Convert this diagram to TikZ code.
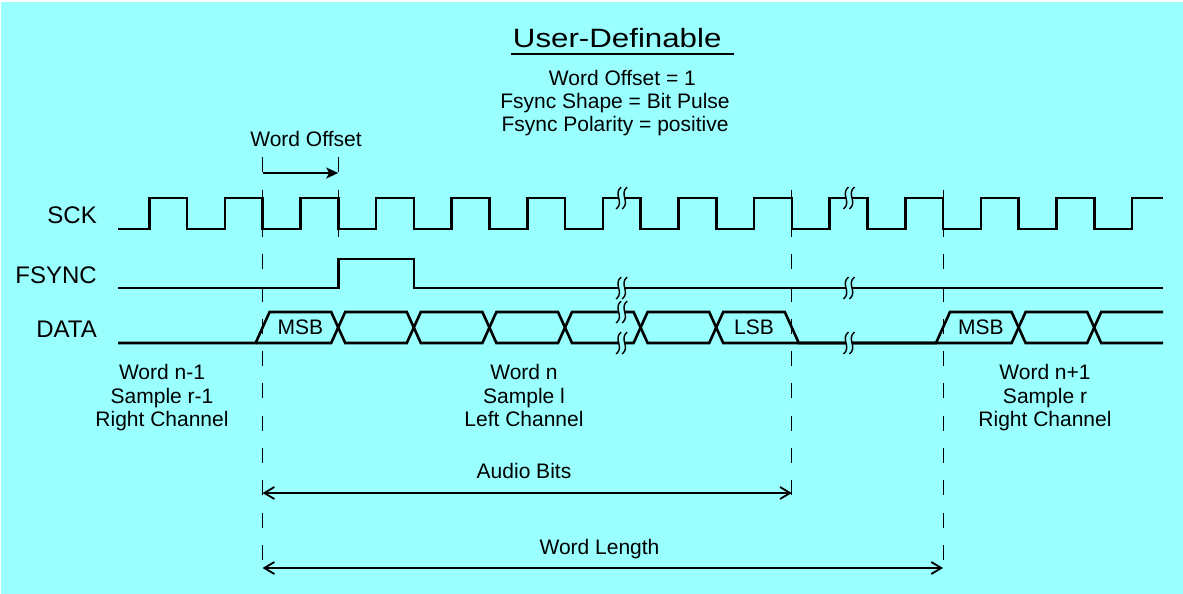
\documentclass[tikz,border=0pt]{standalone}
\usepackage{fontspec}
\setmainfont{Liberation Sans}
\usepackage{graphicx}
\usetikzlibrary{arrows.meta}
\definecolor{bgcyan}{RGB}{153,255,255}
\newcommand\brkmark[2]{%
  \fill[bgcyan] ({#1-3},{#2-2.2}) rectangle ({#1+3},{#2+2.2});
  \draw[brkline] ({#1-0.5},{#2-11}) .. controls ({#1-9},{#2-4}) and ({#1+3},{#2+4}) .. ({#1-5.5},{#2+11});
  \draw[brkline] ({#1+5.5},{#2-11}) .. controls ({#1-3},{#2-4}) and ({#1+9},{#2+4}) .. ({#1+0.5},{#2+11});
}
\begin{document}
\begin{tikzpicture}[x=1pt,y=-1pt,
  wave/.style={line width=2.6pt, line join=miter, line cap=butt},
  guide/.style={line width=1pt, dash pattern=on 15pt off 17.3pt},
  dimarrow/.style={line width=1.8pt, {Straight Barb[length=10pt,width=12pt]}-{Straight Barb[length=10pt,width=12pt]}},
  offarrow/.style={line width=1.8pt, -{Stealth[length=12pt,width=11pt,inset=3pt]}},
  txt/.style={inner sep=0pt, anchor=base, font=\fontsize{21}{23.5}\selectfont},
  sig/.style={inner sep=0pt, anchor=base east, font=\fontsize{24}{28}\selectfont},
  brkline/.style={line width=1.4pt},
]
% background
\fill[white] (0,0) rectangle (1183,594);
\fill[bgcyan] (1,2) rectangle (1183,594);
\useasboundingbox (0,0) rectangle (1183,594);

% title and settings
\node[inner sep=0pt, anchor=base, font=\fontsize{26.5}{30}\selectfont] (title) at (617.2,47.3) {\scalebox{1.18}[1]{User-Definable}};
\draw[line width=2.4pt] ([shift={(-2,7)}]title.base west) -- ([shift={(12.3,7)}]title.base east);
\node[txt] (sub1) at (622.4,85) {Word Offset = 1};
\node[txt] (sub2) at (615,108) {Fsync Shape = Bit Pulse};
\node[txt] (sub3) at (615,131) {Fsync Polarity = positive};

% signal names
\node[sig] (sck) at (97,223.3) {SCK};
\node[sig] (fsync) at (97,283) {FSYNC};
\node[sig] (data) at (97,337) {DATA};

% guide lines
\coordinate (g1t) at (262.6,157.3); \coordinate (g1b) at (262.6,560);
\coordinate (g2t) at (338.2,157.3); \coordinate (g2b) at (338.2,237);
\coordinate (g3t) at (791.8,189.6); \coordinate (g3b) at (791.8,495);
\coordinate (g4t) at (943,189.6);   \coordinate (g4b) at (943,577);
\draw[guide] (g1t) -- (g1b);
\draw[guide] (g2t) -- (g2b);
\draw[guide] (g3t) -- (g3b);
\draw[guide] (g4t) -- (g4b);

% SCK
\draw[wave] (118,229) foreach \k in {0,...,12} {
  -- ({149.2+75.6*\k},229) -- ({149.2+75.6*\k},198) -- ({187+75.6*\k},198) -- ({187+75.6*\k},229) }
  -- (1132,229) -- (1132,198) -- (1163,198);

% FSYNC
\draw[wave] (118,288) -- (338.2,288) -- (338.2,259) -- (413.8,259) -- (413.8,288) -- (1163,288);

% DATA
\draw[wave] (118,343) -- (255.6,343) -- (269.6,312)
  foreach \t/\ya/\yb in {338.2/312/343, 413.8/343/312, 489.4/312/343, 565/343/312, 640.6/312/343, 716.2/343/312, 791.8/312/343, 943/343/312, 1018.6/312/343, 1094.2/343/312} {
  -- ({\t-7},\ya) -- ({\t+7},\yb) } -- (1163,312);
\draw[wave] (255.6,343)
  foreach \t/\ya/\yb in {338.2/343/312, 413.8/312/343, 489.4/343/312, 565/312/343, 640.6/343/312, 716.2/312/343, 1018.6/343/312, 1094.2/312/343} {
  -- ({\t-7},\ya) -- ({\t+7},\yb) } -- (1163,343);

% bit labels
\node[txt, anchor=center] (msb1) at (300.4,327.5) {MSB};
\node[txt, anchor=center] (lsb) at (754,327.5) {LSB};
\node[txt, anchor=center] (msb2) at (980.8,327.5) {MSB};

% break marks
\brkmark{621.7}{198}
\brkmark{621.7}{288}
\brkmark{621.7}{312}
\brkmark{621.7}{343}
\brkmark{849}{198}
\brkmark{849}{288}
\brkmark{849}{343}

% word descriptions
\node[txt] (wp1) at (162,379.5) {Word n-1};
\node[txt] (wp2) at (162,403.3) {Sample r-1};
\node[txt] (wp3) at (162,426.8) {Right Channel};
\node[txt] (wc1) at (524,379.5) {Word n};
\node[txt] (wc2) at (524,403.3) {Sample l};
\node[txt] (wc3) at (524,426.8) {Left Channel};
\node[txt] (wx1) at (1045,379.5) {Word n+1};
\node[txt] (wx2) at (1045,403.3) {Sample r};
\node[txt] (wx3) at (1045,426.8) {Right Channel};

% word offset
\node[txt] (wolab) at (306,146) {Word Offset};
\coordinate (wo1) at (262.6,173); \coordinate (wo2) at (338.2,173);
\draw[offarrow] (wo1) -- (wo2);

% audio bits and word length
\node[txt] (ablab) at (524,478.3) {Audio Bits};
\coordinate (ab1) at (262.6,493); \coordinate (ab2) at (791.8,493);
\draw[dimarrow] (ab1) -- (ab2);
\node[txt] (wllab) at (599.5,554) {Word Length};
\coordinate (wl1) at (262.6,568); \coordinate (wl2) at (943,568);
\draw[dimarrow] (wl1) -- (wl2);
\end{tikzpicture}
\end{document}
